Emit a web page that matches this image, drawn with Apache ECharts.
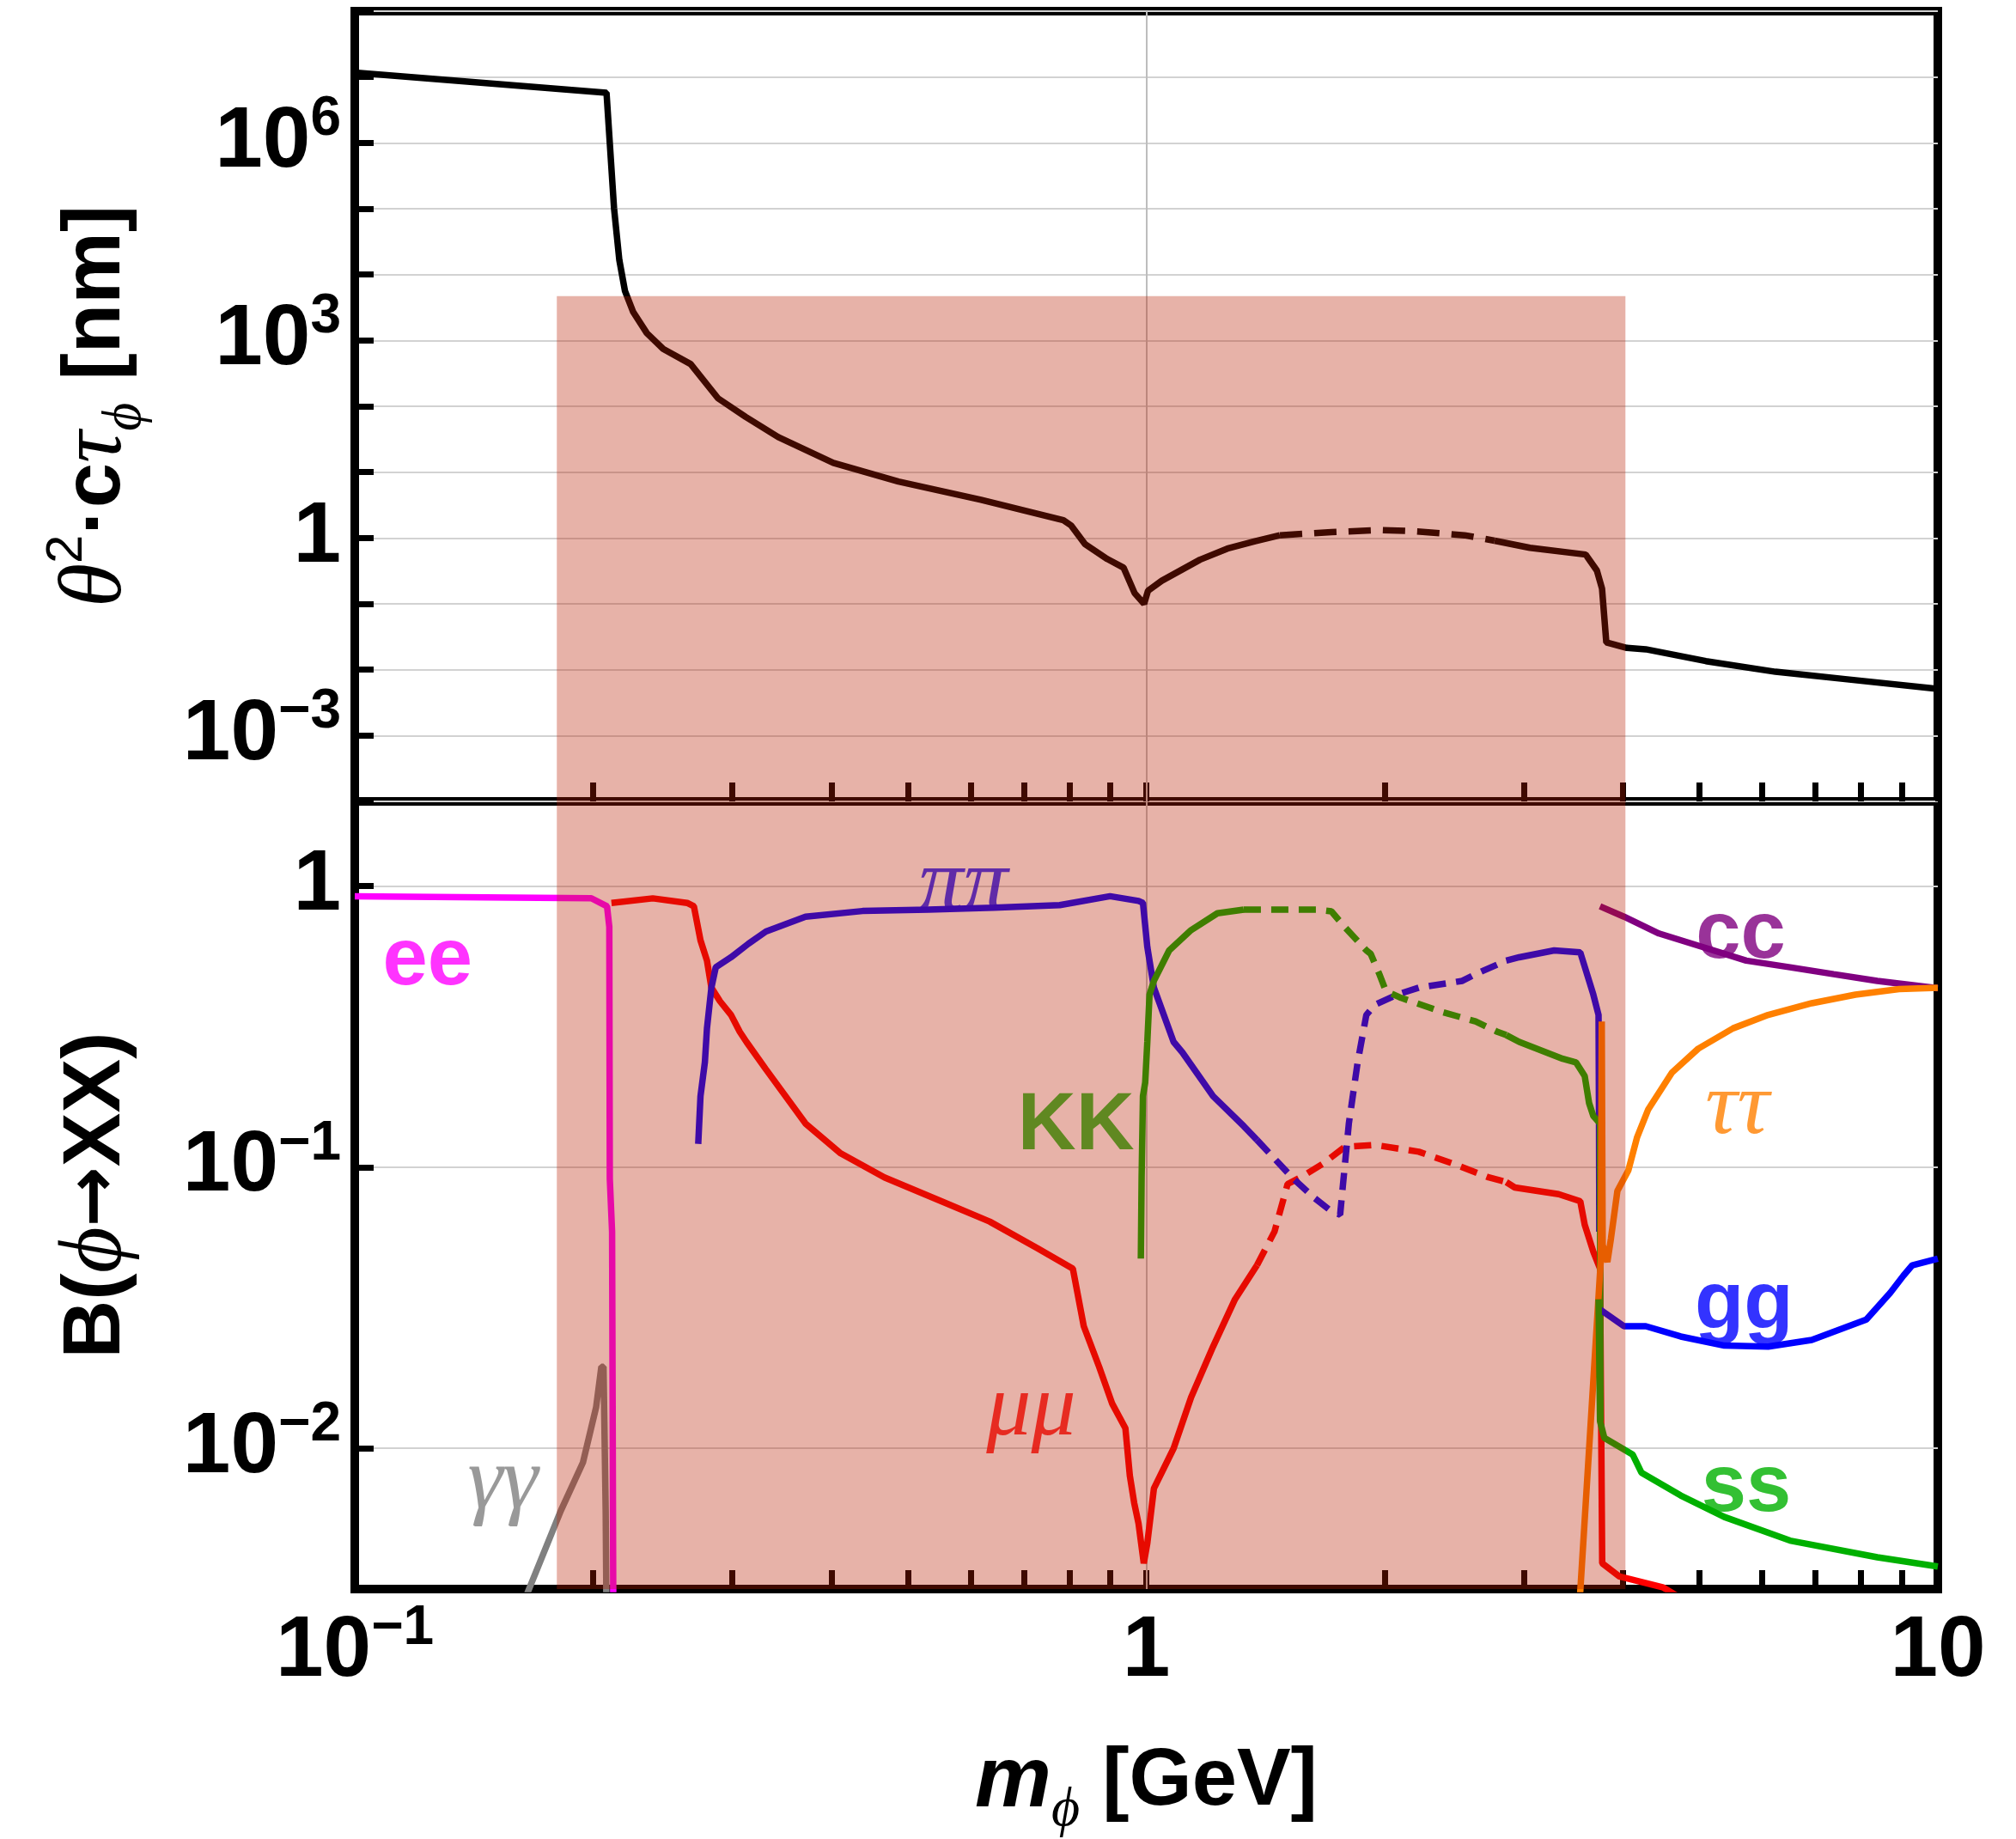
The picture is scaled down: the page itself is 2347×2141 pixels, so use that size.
<!DOCTYPE html>
<html>
<head>
<meta charset="utf-8">
<script src="https://cdn.jsdelivr.net/npm/echarts@6/dist/echarts.min.js"></script>
<style>
html, body { margin: 0; padding: 0; background: #fff; }
#chart { width: 2347px; height: 2141px; }
</style>
</head>
<body>
<div id="chart"></div>
<script>
var dom = document.getElementById('chart');
var myChart = echarts.init(dom);

// ---- axes (GeV, nm, branching ratio) ----
var massTicks = [0.1, 0.2, 0.3, 0.4, 0.5, 0.6, 0.7, 0.8, 0.9, 1, 2, 3, 4, 5, 6, 7, 8, 9, 10];
var massLabels = [0.1, 1, 10];
var lifeTicks = [1e-4, 1e-3, 1e-2, 1e-1, 1, 1e1, 1e2, 1e3, 1e4, 1e5, 1e6, 1e7, 1e8];
var lifeLabels = [1e-3, 1, 1e3, 1e6];
var brTicks = [0.01, 0.1, 1];
var brRange = [0.00316, 2];

// shaded band
var bandMass = [0.18, 4.03];
var bandLifeTop = 4700;

// ---- top panel: theta^2 * c tau [nm] ----
var lifeSolidA = [[0.1, 1.17e7], [0.208, 5.75e6], [0.2126, 1.02e5], [0.2159, 1.66e4], [0.2195, 5600],
  [0.2248, 2700], [0.2339, 1290], [0.2453, 741], [0.2657, 437], [0.2877, 132], [0.3118, 69],
  [0.3428, 34], [0.4023, 13.8], [0.4863, 7.2], [0.6182, 3.8], [0.7857, 1.86], [0.8035, 1.55],
  [0.8364, 0.81], [0.8926, 0.48], [0.9359, 0.355], [0.9667, 0.145], [0.9937, 0.1], [1.005, 0.158],
  [1.046, 0.224], [1.169, 0.468], [1.266, 0.69], [1.372, 0.89], [1.475, 1.10]];
var lifeDashed = [[1.475, 1.10], [1.714, 1.23], [1.981, 1.32], [2.199, 1.26], [2.524, 1.10], [2.754, 0.91]];
var lifeSolidB = [[2.754, 0.91], [3.052, 0.71], [3.59, 0.56], [3.709, 0.32], [3.765, 0.17], [3.812, 0.026],
  [4.047, 0.0214], [4.276, 0.0204], [5.093, 0.0135], [6.236, 0.0093], [7.637, 0.0072], [10, 0.0051]];

// ---- bottom panel: branching ratios ----
var brEE = [[0.1, 0.92], [0.199, 0.905], [0.2083, 0.847], [0.2097, 0.716], [0.21, 0.091],
  [0.2114, 0.059], [0.2121, 0.0032], [0.2122, 0.001]];
var brGamma = [[0.158, 0.00224], [0.1821, 0.006], [0.1942, 0.0089], [0.2018, 0.014], [0.2049, 0.0195],
  [0.2062, 0.0195], [0.2075, 0.006], [0.2085, 0.001]];
var brMuSolidA = [[0.211, 0.871], [0.238, 0.904], [0.263, 0.871], [0.2682, 0.847], [0.2734, 0.641],
  [0.2786, 0.543], [0.2822, 0.435], [0.2894, 0.389], [0.2988, 0.348], [0.3065, 0.303], [0.3125, 0.279],
  [0.3307, 0.223], [0.3711, 0.143], [0.4111, 0.112], [0.4668, 0.092], [0.5509, 0.0757], [0.6339, 0.0641],
  [0.7294, 0.0514], [0.8076, 0.0436], [0.8337, 0.0272], [0.8718, 0.0195], [0.9058, 0.0144], [0.941, 0.0118],
  [0.9532, 0.008], [0.9654, 0.0064], [0.9777, 0.0054], [0.9927, 0.0039], [1.003, 0.0046], [1.0224, 0.0072],
  [1.0827, 0.01], [1.1393, 0.0152], [1.2143, 0.023], [1.2944, 0.0339], [1.3799, 0.0448]];
var brMuDashed = [[1.3799, 0.0448], [1.4519, 0.059], [1.5084, 0.0871], [1.5671, 0.092], [1.671, 0.1028],
  [1.7805, 0.118], [1.9455, 0.12], [2.2093, 0.1135], [2.4451, 0.1028], [2.7067, 0.092], [2.85, 0.0885]];
var brMuSolidB = [[2.85, 0.0885], [2.921, 0.0847], [3.318, 0.0802], [3.534, 0.0757], [3.58, 0.0624],
  [3.671, 0.05], [3.743, 0.0436], [3.767, 0.0039], [3.962, 0.0035], [4.499, 0.0032], [5.2, 0.0025]];
var brPiSolidA = [[0.2716, 0.121], [0.2734, 0.179], [0.2769, 0.236], [0.2786, 0.312], [0.2822, 0.435],
  [0.2858, 0.514], [0.2988, 0.558], [0.3144, 0.624], [0.3307, 0.689], [0.3711, 0.778], [0.438, 0.815],
  [0.5304, 0.824], [0.6422, 0.838], [0.7774, 0.855], [0.8999, 0.92], [0.9777, 0.885], [0.9903, 0.871],
  [1.003, 0.607], [1.0224, 0.435], [1.0827, 0.279], [1.1107, 0.256], [1.2143, 0.179], [1.3277, 0.14],
  [1.3799, 0.125]];
var brPiDashed = [[1.3799, 0.125], [1.5282, 0.092], [1.6283, 0.078], [1.7133, 0.0697], [1.7576, 0.0678],
  [1.769, 0.0824], [1.8026, 0.143], [1.8493, 0.236], [1.8967, 0.348], [1.9454, 0.378], [2.0738, 0.411],
  [2.2093, 0.435], [2.5076, 0.46], [2.6062, 0.486], [2.8489, 0.543]];
var brPiSolidB = [[2.8489, 0.543], [2.959, 0.558], [3.2758, 0.59], [3.534, 0.581], [3.671, 0.411],
  [3.727, 0.348], [3.732, 0.143], [3.735, 0.059]];
var brKSolidA = [[0.9843, 0.0473], [0.9865, 0.092], [0.9903, 0.179], [0.9968, 0.2], [1.003, 0.279],
  [1.0095, 0.411], [1.0224, 0.46], [1.0688, 0.59], [1.1393, 0.697], [1.2298, 0.8], [1.3277, 0.824]];
var brKDashed = [[1.3277, 0.824], [1.6494, 0.824], [1.7133, 0.813], [1.78, 0.716], [1.897, 0.59],
  [1.921, 0.574], [1.97, 0.486], [2.008, 0.423], [2.099, 0.4], [2.354, 0.358], [2.606, 0.33],
  [2.777, 0.303], [2.85, 0.295]];
var brKSolidB = [[2.85, 0.295], [2.959, 0.279], [3.359, 0.243], [3.49, 0.236], [3.58, 0.211],
  [3.626, 0.169], [3.671, 0.152], [3.743, 0.143], [3.745, 0.0339], [3.748, 0.0125]];
var brCC = [[3.743, 0.847], [4.013, 0.778], [4.443, 0.678], [5.044, 0.607], [5.728, 0.543],
  [6.505, 0.514], [7.384, 0.486], [8.386, 0.46], [10, 0.433]];
var brTau = [[3.5, 0.002], [3.752, 0.047], [3.762, 0.33], [3.772, 0.053], [3.824, 0.046], [3.864, 0.0558],
  [3.937, 0.0824], [4.064, 0.0973], [4.17, 0.128], [4.304, 0.16], [4.614, 0.217], [4.981, 0.264],
  [5.514, 0.312], [6.105, 0.348], [6.93, 0.383], [7.868, 0.411], [8.933, 0.43], [10, 0.435]];
var brGG = [[3.743, 0.0312], [4.013, 0.0272], [4.276, 0.0272], [4.733, 0.025], [5.375, 0.0232],
  [6.105, 0.023], [6.93, 0.0243], [8.122, 0.0287], [8.709, 0.0358], [9.05, 0.0412], [9.283, 0.0448],
  [10, 0.0473]];
var brSS = [[3.727, 0.0339], [3.743, 0.0125], [3.79, 0.0109], [4.117, 0.0095], [4.222, 0.0082],
  [4.733, 0.0068], [5.375, 0.0057], [6.505, 0.0047], [8.386, 0.0041], [10, 0.0038]];

// curve labels (text, mass, branching ratio)
var labelText = ['ee', '\u03b3\u03b3', '\u03c0\u03c0', 'KK', '\u03bc\u03bc', 'cc', '\u03c4\u03c4', 'gg', 'ss'];
var labelMass = [0.1236, 0.1539, 0.5873, 0.815, 0.7154, 5.636, 5.58, 5.69, 5.728];
var labelBr = [0.538, 0.00748, 1.0, 0.139, 0.01355, 0.668, 0.16, 0.0321, 0.00718];

var SANS = '"Liberation Sans", Arial, "DejaVu Sans", sans-serif';
var SERIF = '"Liberation Serif", "DejaVu Serif", serif';

function lg(v) { return Math.log10(v); }
function toXY(pairs) { return pairs.map(function (p) { return [lg(p[0]), lg(p[1])]; }); }

function powLabel(v) {
  var e = Math.round(v);
  if (e === 0) return '{b|1}';
  if (e === 1) return '{b|10}';
  return '{b|10}{sup|' + (e < 0 ? '\u2212' : '') + Math.abs(e) + '}';
}

var tickRich = {
  b: { fontFamily: SANS, fontWeight: 'bold', fontSize: 100, lineHeight: 118, color: '#000' },
  sup: { fontFamily: SANS, fontWeight: 'bold', fontSize: 64, lineHeight: 64, verticalAlign: 'top', color: '#000' }
};
var titleRich = {
  t: { fontFamily: SANS, fontWeight: 'bold', fontSize: 94, lineHeight: 130, color: '#000' },
  ar: { fontFamily: '"DejaVu Sans", sans-serif', fontWeight: 'bold', fontSize: 84, lineHeight: 130, color: '#000' },
  tbi: { fontFamily: SANS, fontWeight: 'bold', fontStyle: 'italic', fontSize: 100, lineHeight: 130, color: '#000' },
  ti: { fontFamily: SERIF, fontStyle: 'italic', fontSize: 104, lineHeight: 130, color: '#000' },
  sup: { fontFamily: SANS, fontSize: 60, lineHeight: 60, verticalAlign: 'top', color: '#000' },
  sub: { fontFamily: SERIF, fontStyle: 'italic', fontSize: 64, lineHeight: 60, verticalAlign: 'bottom', color: '#000' }
};

var tickStyle = { show: true, inside: true, length: 22, lineStyle: { color: '#000', width: 7 } };

function mkX(idx, withLabels) {
  return {
    type: 'value', gridIndex: idx, min: -1, max: 1,
    axisLine: { show: false, onZero: false },
    axisTick: Object.assign({ customValues: massTicks.map(lg) }, tickStyle),
    axisLabel: { show: withLabels, customValues: massLabels.map(lg), margin: 14, formatter: powLabel, rich: tickRich },
    splitLine: { show: false },
    name: withLabels ? '{tbi|m}{sub|\u03d5}{t| [GeV]}' : '',
    nameLocation: 'middle', nameGap: 160,
    nameTextStyle: { rich: titleRich }
  };
}

function mkY(idx, ticks, labels, min, max, name) {
  return {
    type: 'value', gridIndex: idx, min: min, max: max,
    axisLine: { show: false, onZero: false },
    axisTick: Object.assign({ customValues: ticks.map(lg) }, tickStyle),
    axisLabel: { customValues: labels.map(lg), margin: 16, formatter: powLabel, rich: tickRich },
    splitLine: { show: true, lineStyle: { color: '#d2d2d2', width: 2 } },
    name: name, nameLocation: 'middle', nameGap: 235, nameRotate: 90,
    nameTextStyle: { rich: titleRich }
  };
}

var DASH_TOP = [26, 14];
var DASH = [20, 12];

function line(data, color, grid, dashed) {
  return {
    type: 'line', xAxisIndex: grid, yAxisIndex: grid, data: toXY(data),
    showSymbol: false, symbol: 'none', silent: true, clip: true, z: 2,
    lineStyle: { color: color, width: 7.5, type: dashed ? (grid === 0 ? DASH_TOP : DASH) : 'solid' }
  };
}

var series = [
  line(lifeSolidA, '#000', 0, false),
  line(lifeDashed, '#000', 0, true),
  line(lifeSolidB, '#000', 0, false),
  line(brGamma, '#808080', 1, false),
  line(brEE, '#ff00ff', 1, false),
  line(brMuSolidA, '#ff0000', 1, false),
  line(brMuDashed, '#ff0000', 1, true),
  line(brMuSolidB, '#ff0000', 1, false),
  line(brPiSolidA, '#0000ff', 1, false),
  line(brPiDashed, '#0000ff', 1, true),
  line(brPiSolidB, '#0000ff', 1, false),
  line(brKSolidA, '#00b000', 1, false),
  line(brKDashed, '#00b000', 1, true),
  line(brKSolidB, '#00b000', 1, false),
  line(brCC, '#800080', 1, false),
  line(brTau, '#ff8000', 1, false),
  line(brGG, '#0000ff', 1, false),
  line(brSS, '#00b000', 1, false)
];

// vertical grid line at 1 GeV and the shaded band, one pair per panel
var yEdges = [[lg(bandLifeTop), -4], [lg(brRange[1]), lg(brRange[0]) - 0.016]];
[0, 1].forEach(function (g) {
  series.push({
    type: 'line', xAxisIndex: g, yAxisIndex: g, data: [], z: 1, silent: true,
    markLine: {
      z: 1, silent: true, symbol: ['none', 'none'], label: { show: false },
      lineStyle: { color: '#bdbdbd', width: 2, type: 'solid' },
      data: [{ xAxis: 0 }]
    }
  });
  series.push({
    type: 'line', xAxisIndex: g, yAxisIndex: g, data: [], z: 10, silent: true, clip: false,
    markArea: {
      z: 10, silent: true,
      itemStyle: { color: 'rgba(185,29,0,0.34)' },
      data: [[{ coord: [lg(bandMass[0]), yEdges[g][0]] }, { coord: [lg(bandMass[1]), yEdges[g][1]] }]]
    }
  });
});

// curve labels
var labelColor = ['#ff00ff', '#808080', '#0000ff', '#00b000', '#ff0000', '#800080', '#ff8000', '#0000ff', '#00b000'];
series.push({
  type: 'scatter', xAxisIndex: 1, yAxisIndex: 1, symbolSize: 1, z: 3, silent: true,
  itemStyle: { color: 'transparent' },
  data: labelText.map(function (t, i) {
    var greek = /[\u0370-\u03ff]/.test(t);
    return {
      name: t, value: [lg(labelMass[i]), lg(labelBr[i])],
      label: {
        show: true, position: 'inside', formatter: '{b}', color: labelColor[i],
        fontFamily: greek ? SERIF : SANS,
        fontWeight: greek ? 'normal' : 'bold',
        fontStyle: greek ? 'italic' : 'normal',
        fontSize: greek ? 104 : 94
      }
    };
  })
});

var option = {
  animation: false,
  backgroundColor: '#fff',
  grid: [
    { left: 413, top: 13, width: 1843, height: 920, show: true, borderColor: '#000', borderWidth: 10, backgroundColor: 'transparent' },
    { left: 413, top: 933, width: 1843, height: 923, show: true, borderColor: '#000', borderWidth: 10, backgroundColor: 'transparent' }
  ],
  xAxis: [mkX(0, false), mkX(1, true)],
  yAxis: [
    mkY(0, lifeTicks, lifeLabels, -4, 8, '{ti|\u03b8}{sup|2}{t|\u00b7c}{ti|\u03c4}{sub|\u03d5}{t| [nm]}'),
    mkY(1, brTicks, brTicks, lg(brRange[0]), lg(brRange[1]), '{t|B(}{ti|\u03d5}{ar|\u2192}{t|XX)}')
  ],
  series: series
};

if (option && typeof option === 'object') {
  myChart.setOption(option);
}
</script>
</body>
</html>
